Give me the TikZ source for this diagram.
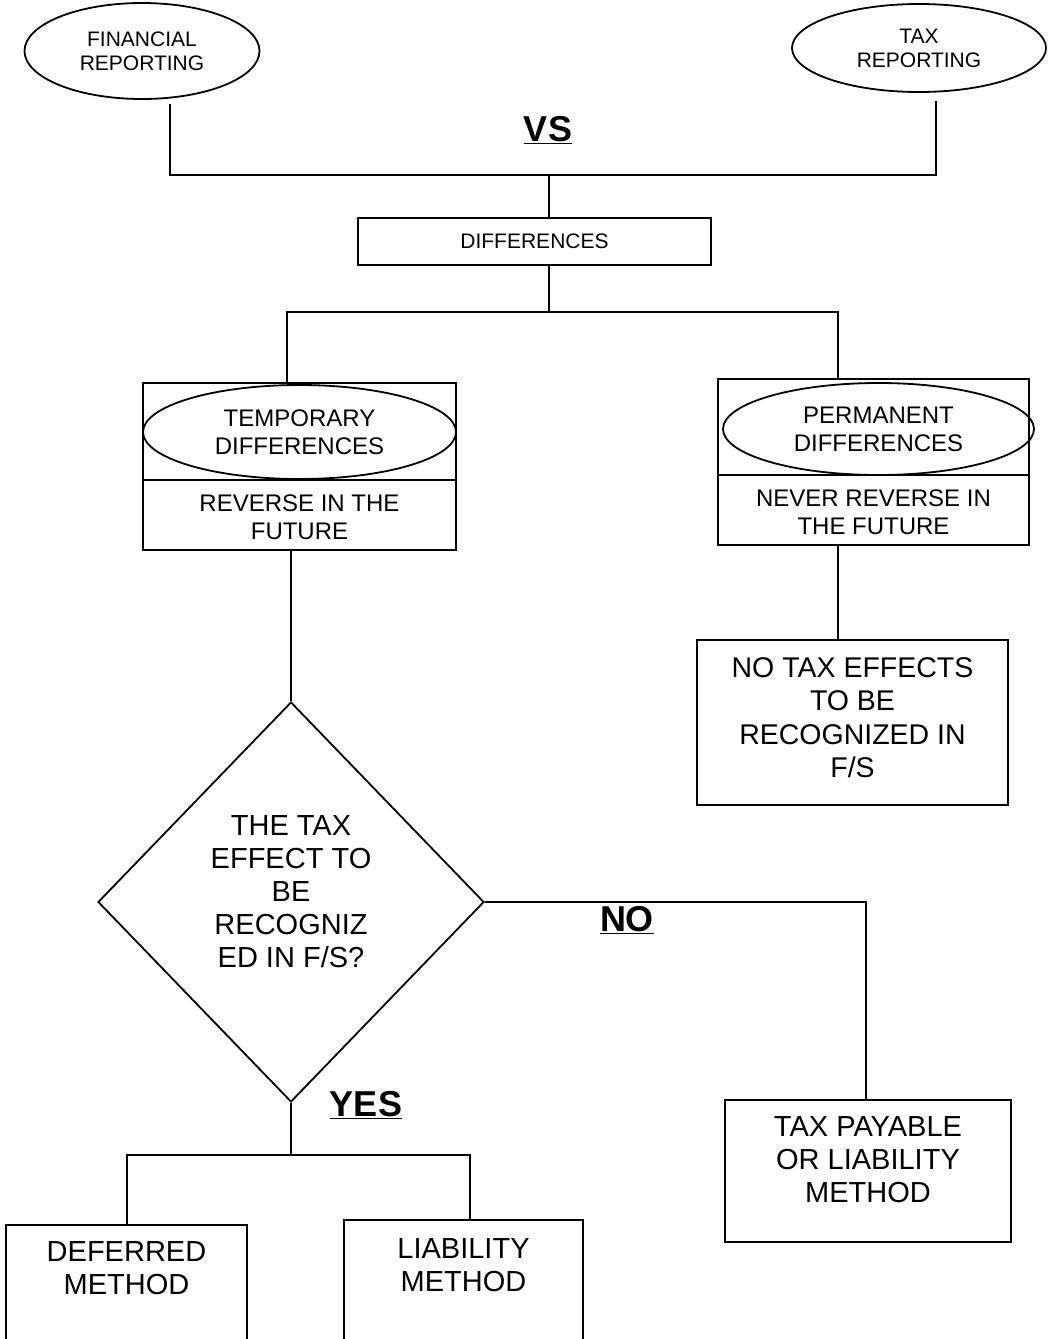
\documentclass[tikz,border=0pt]{standalone}
\usepackage{fontspec}
\setmainfont{Liberation Sans}
\usetikzlibrary{shapes.geometric}
\newcommand{\fsz}[2]{\fontsize{#1}{#2}\selectfont}
\begin{document}
\begin{tikzpicture}[x=1pt,y=-1pt, line width=1.8pt,
  box/.style={draw, rectangle, inner sep=0pt},
  oval/.style={draw, ellipse, inner sep=0pt},
  txt/.style={inner sep=0pt, align=center},
  topfont/.style={font=\fsz{21}{24}},
  midfont/.style={font=\fsz{24}{28}},
  nofont/.style={font=\fsz{28.5}{33.5}},
  bigfont/.style={font=\fsz{29}{33}},
  lbl/.style={inner sep=0pt, font=\bfseries\fsz{36}{40}}]
\useasboundingbox (0,0) rectangle (1048,1339);

% top ellipses
\node[oval, minimum width=235, minimum height=96, txt, topfont] (fin) at (142,51) {FINANCIAL\\REPORTING};
\node[oval, minimum width=254, minimum height=88, txt, topfont] (tax) at (919,48) {TAX\\REPORTING};
\node[lbl] (vs) at (548,130) {\underline{VS}};

% differences
\node[box, minimum width=353, minimum height=47, topfont] (diff) at (534.5,241.5) {DIFFERENCES};

\coordinate (jt) at (549,175);
\draw ([xshift=28pt,yshift=-4pt]fin.south) |- (jt) -| ([xshift=17pt,yshift=-8pt]tax.south);
\draw (jt) -- (jt |- diff.north);

% temporary / permanent
\node[box, minimum width=313, minimum height=167] (tempbox) at (299.5,466.5) {};
\coordinate (tdl) at (143,480);
\coordinate (tdr) at (456,480);
\draw (tdl) -- (tdr);
\node[oval, minimum width=313, minimum height=94, txt, midfont] (tempov) at (299.5,432) {TEMPORARY\\DIFFERENCES};
\node[txt, midfont] (temptxt) at (299.5,517.5) {REVERSE IN THE\\FUTURE};

\node[box, minimum width=311, minimum height=166] (permbox) at (873.5,462) {};
\coordinate (pdl) at (718,475);
\coordinate (pdr) at (1029,475);
\draw (pdl) -- (pdr);
\node[oval, minimum width=311, minimum height=92, txt, midfont] (permov) at (878.5,429) {PERMANENT\\DIFFERENCES};
\node[txt, midfont] (permtxt) at (873.5,512.5) {NEVER REVERSE IN\\THE FUTURE};

\coordinate (j2) at (549,312);
\coordinate (j2l) at (287,312);
\coordinate (j2r) at (838,312);
\draw (j2 |- diff.south) -- (j2);
\draw (j2l |- tempbox.north) |- (j2r) -- (j2r |- permbox.north);

% no tax effects
\node[box, minimum width=311, minimum height=165] (notax) at (852.5,722.5) {};
\node[txt, nofont] (notaxt) at (852.5,717.5) {NO TAX EFFECTS\\TO BE\\RECOGNIZED IN\\F/S};
\draw (j2r |- permbox.south) -- (j2r |- notax.north);

% diamond
\node[draw, diamond, inner sep=0pt, minimum width=386, minimum height=400] (dia) at (291,902) {};
\node[txt, bigfont] (diat) at (291,892) {THE TAX\\EFFECT TO\\BE\\RECOGNIZ\\ED IN F/S?};
\draw (dia.north |- tempbox.south) -- (dia.north);

% NO branch
\node[box, minimum width=286, minimum height=142] (tp) at (868,1171) {};
\node[txt, bigfont] (tpt) at (868,1160) {TAX PAYABLE\\OR LIABILITY\\METHOD};
\coordinate (nocorner) at (866,890);
\draw (dia.east) -- (dia.east -| nocorner) -- (nocorner |- tp.north);
\node[lbl] (no) at (627,920) {\underline{NO}};

% YES branch
\node[lbl] (yes) at (366,1105) {\underline{YES}};
\coordinate (j3) at (291,1155);
\coordinate (j3l) at (127,1155);
\coordinate (j3r) at (470,1155);
\node[box, minimum width=241, minimum height=140] (def) at (126.5,1295) {};
\node[txt, bigfont] (deft) at (126.5,1268.5) {DEFERRED\\METHOD};
\node[box, minimum width=239, minimum height=145] (liab) at (463.5,1292.5) {};
\node[txt, bigfont] (liabt) at (463.5,1265.5) {LIABILITY\\METHOD};
\draw (dia.south) -- (j3);
\draw (j3l |- def.north) |- (j3r) -- (j3r |- liab.north);
\end{tikzpicture}
\end{document}
